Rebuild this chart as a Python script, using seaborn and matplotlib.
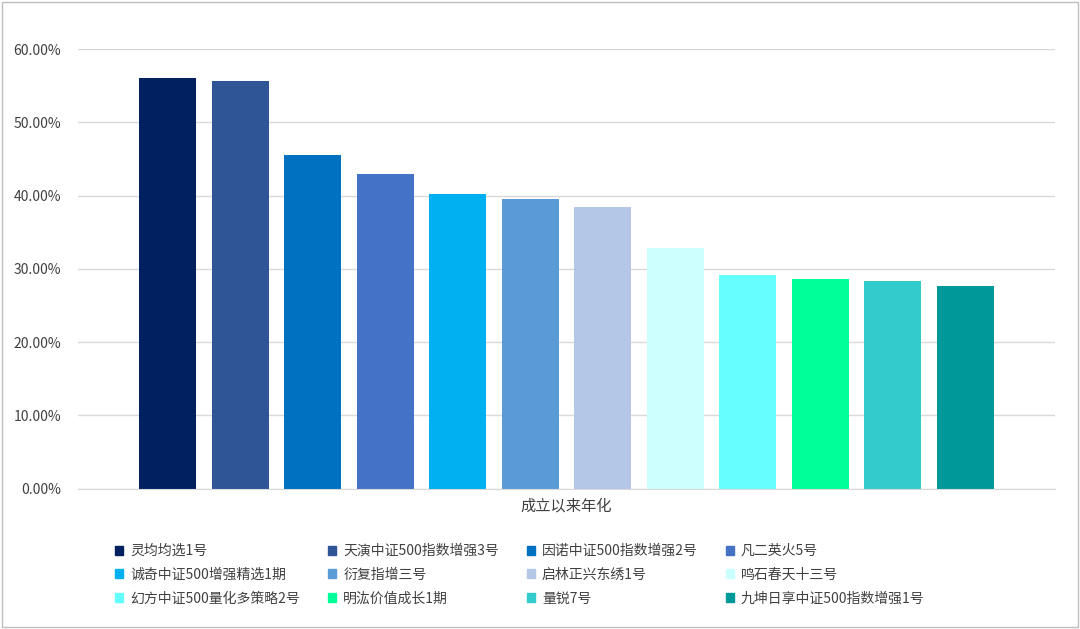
import matplotlib
matplotlib.use("Agg")
import matplotlib.pyplot as plt
from matplotlib.patches import Rectangle
import seaborn as sns
import pandas as pd

FUNDS = ["灵均均选1号", "天演中证500指数增强3号", "因诺中证500指数增强2号", "凡二英火5号",
         "诚奇中证500增强精选1期", "衍复指增三号", "启林正兴东绣1号", "鸣石春天十三号",
         "幻方中证500量化多策略2号", "明汯价值成长1期", "量锐7号", "九坤日享中证500指数增强1号"]
RETURNS = [56.0, 55.7, 45.5, 43.0, 40.2, 39.6, 38.5, 32.8, 29.2, 28.6, 28.4, 27.6]
CATEGORY = "成立以来年化"
COLORS = ["#002060", "#2F5597", "#0070C0", "#4472C4", "#00B0F0", "#5B9BD5",
          "#B4C7E7", "#CCFFFF", "#66FFFF", "#00FF99", "#33CCCC", "#009999"]

plt.rcParams["font.family"] = ["Noto Sans CJK SC", "DejaVu Sans"]

df = pd.DataFrame({"cat": [CATEGORY] * len(FUNDS), "fund": FUNDS, "val": RETURNS})

fig = plt.figure(figsize=(10.8, 6.29), dpi=100)
ax = fig.add_axes([0.072, 0.223, 0.905, 0.699])
sns.barplot(data=df, x="cat", y="val", hue="fund", hue_order=FUNDS, palette=COLORS,
            width=0.89, gap=0.21, ax=ax, legend=False, saturation=1)

ax.set_ylim(0, 60)
ax.set_xlim(-0.5, 0.5)
ax.set_yticks(range(0, 61, 10))
ax.set_yticklabels([f"{v:.2f}%" for v in range(0, 61, 10)], fontsize=10, color="#404040")
ax.tick_params(axis="y", length=0, pad=12)
ax.tick_params(axis="x", length=0, labelsize=11, colors="#404040", pad=6)
ax.set_xlabel("")
ax.set_ylabel("")
ax.set_axisbelow(True)
ax.grid(axis="y", color="#D9D9D9", linewidth=1)
for s in ["top", "left", "right"]:
    ax.spines[s].set_visible(False)
ax.spines["bottom"].set_color("#D9D9D9")

# legend fills column-first, so reorder to read row by row
ncol = 4
order = [r * ncol + c for c in range(ncol) for r in range(len(FUNDS) // ncol)]
handles = [Rectangle((0, 0), 1, 1, color=COLORS[i]) for i in order]
labels = [FUNDS[i] for i in order]
fig.legend(handles, labels, ncol=ncol, loc="upper left", bbox_to_anchor=(0.095, 0.155),
           frameon=False, fontsize=10, handlelength=0.6, handleheight=0.6,
           handletextpad=0.5, columnspacing=2.0, labelspacing=0.7, labelcolor="#404040")

fig.patches.append(Rectangle((0.002, 0.003), 0.996, 0.994, transform=fig.transFigure,
                             fill=False, edgecolor="#BFBFBF", linewidth=1))

fig.savefig("out.png", dpi=100)
